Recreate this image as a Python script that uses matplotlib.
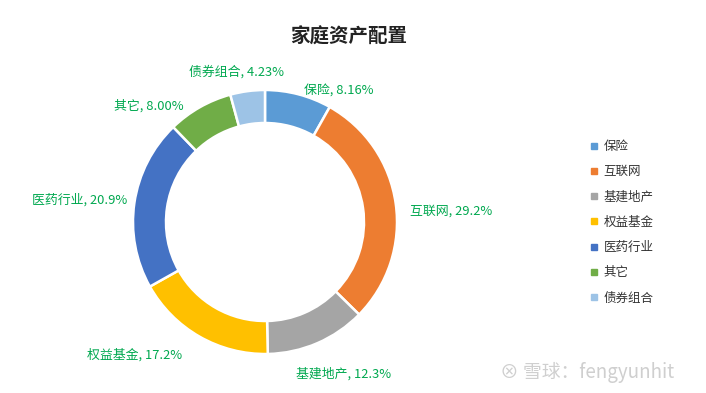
import numpy as np
import matplotlib
matplotlib.use("Agg")
import matplotlib.pyplot as plt
from matplotlib.lines import Line2D

plt.rcParams['font.family'] = ['Noto Sans CJK SC', 'DejaVu Sans']

categories = ["保险", "互联网", "基建地产", "权益基金", "医药行业", "其它", "债券组合"]
values = [8.16, 29.2, 12.3, 17.2, 20.9, 8.00, 4.23]
value_labels = ["8.16%", "29.2%", "12.3%", "17.2%", "20.9%", "8.00%", "4.23%"]
colors = ["#5B9BD5", "#ED7D31", "#A5A5A5", "#FFC000", "#4472C4", "#70AD47", "#9DC3E6"]

# small nudges (pixels) for the data labels, like Excel's best-fit placement
label_nudge = [(0, -16), (-7, -11), (-30, -11), (-7, 0), (14, 0), (-6, -17), (-8, -2)]

fig = plt.figure(figsize=(7.06, 3.93), dpi=100)
W, H = 706, 393
cx, cy, R = 265, 222, 132
ax = fig.add_axes([(cx - R) / W, (H - cy - R) / H, 2 * R / W, 2 * R / H])

wedges, _ = ax.pie(values, colors=colors, startangle=90, counterclock=False,
                   radius=1.0, wedgeprops=dict(width=0.25, edgecolor="white", linewidth=1.8))
ax.set_xlim(-1, 1)
ax.set_ylim(-1, 1)
ax.set_aspect("equal")
ax.axis("off")

for w, cat, lab, nd in zip(wedges, categories, value_labels, label_nudge):
    ang = np.deg2rad((w.theta1 + w.theta2) / 2)
    c, s = np.cos(ang), np.sin(ang)
    r = 1.16
    if c > 0.2:
        ha = "left"
    elif c < -0.2:
        ha = "right"
    else:
        ha = "center"
    ax.annotate(f"{cat}, {lab}", xy=(r * c, r * s), xytext=nd, textcoords="offset pixels",
                ha=ha, va="center", fontsize=9.3, color="#00A84F", annotation_clip=False)

fig.text(349 / W, 1 - 37 / H, "家庭资产配置", ha="center", va="center",
         fontsize=14, fontweight="bold", color="#222222")

handles = [Line2D([], [], marker="s", linestyle="none", markersize=5,
                  markerfacecolor=col, markeredgecolor=col) for col in colors]
fig.legend(handles, categories, loc="upper left", bbox_to_anchor=(585 / W, 1 - 135 / H),
           frameon=False, fontsize=9, handlelength=0.6, handletextpad=0.5,
           labelspacing=0.98, borderaxespad=0, labelcolor="#333333")

fig.text(500 / W, 1 - 372 / H, "⊗ 雪球：fengyunhit", ha="left", va="center",
         fontsize=13.5, color="#CFCFCF", family=['Noto Sans CJK SC', 'DejaVu Sans'])

fig.savefig("out.png", dpi=100)
